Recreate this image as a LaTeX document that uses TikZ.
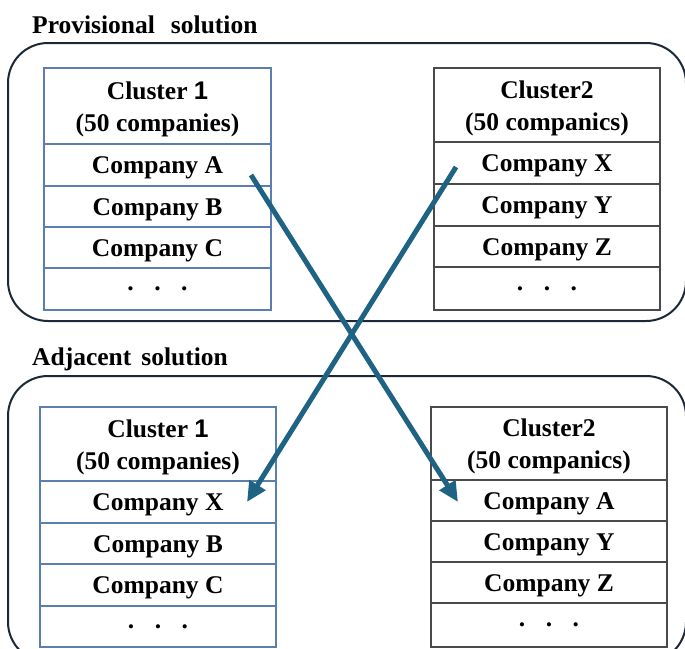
\documentclass[tikz,border=0pt]{standalone}
\usepackage{fontspec}
\setmainfont{Liberation Serif}
\newfontfamily\digitfont{Liberation Sans}
\usetikzlibrary{arrows.meta}
\definecolor{arrowc}{HTML}{1F6384}
\definecolor{bluec}{HTML}{5A7FAE}
\definecolor{grayc}{HTML}{4A4A4A}
\definecolor{framec}{HTML}{1C2836}
\begin{document}
\begin{tikzpicture}[x=1pt,y=-1pt,
  txt/.style={font=\fontsize{25.5}{32}\selectfont\bfseries, align=center, inner sep=0pt},
  row/.style={text height=17pt, text depth=0pt},
  dotrow/.style={text height=3pt, text depth=0pt},
  cellone/.style={txt, draw=bluec, line width=1.2pt, rectangle},
  celltwo/.style={txt, draw=grayc, line width=1.2pt, rectangle},
  headtxt/.style={txt, yshift=-3pt},
  frame/.style={draw=framec, line width=2pt, rounded corners=40pt},
  title/.style={font=\fontsize{25.5}{32}\selectfont\bfseries, inner sep=0pt, anchor=base west},
  swap/.style={draw=arrowc, line width=5pt, -{Triangle[length=20pt,width=18pt]}}]
\useasboundingbox (0,0) rectangle (685,648);
\clip (0,0) rectangle (685,648);
\fill[white] (0,0) rectangle (685,648);

% titles
\node[title] (ttop) at (32,33) {Provisional\hspace{16pt}solution};
\node[title] (tbot) at (32,365) {Adjacent\hspace{10pt}solution};

% frames
\draw[frame] (8,43) rectangle (686,321);
\draw[frame] (8,376) rectangle (686,662);

% top cluster 1
\node[cellone, minimum width=227pt, minimum height=76pt] (p1h) at (157.5,106) {};
\node[headtxt] (p1ht) at (p1h.center) {Cluster {\digitfont 1}\\(50 companies)};
\node[cellone, row, minimum width=227pt, minimum height=42pt] (p1a) at (157.5,165) {Company A};
\node[cellone, row, minimum width=227pt, minimum height=41pt] (p1b) at (157.5,206.5) {Company B};
\node[cellone, row, minimum width=227pt, minimum height=41pt] (p1c) at (157.5,247.5) {Company C};
\node[cellone, dotrow, minimum width=227pt, minimum height=42pt] (p1d) at (157.5,289) {.\hspace{20.5pt}.\hspace{20.5pt}.};

% top cluster 2
\node[celltwo, minimum width=226pt, minimum height=74pt] (p2h) at (547,105) {};
\node[headtxt] (p2ht) at (p2h.center) {Cluster2\\(50 companics)};
\node[celltwo, row, minimum width=226pt, minimum height=42pt] (p2x) at (547,163) {Company X};
\node[celltwo, row, minimum width=226pt, minimum height=42pt] (p2y) at (547,205) {Company Y};
\node[celltwo, row, minimum width=226pt, minimum height=41pt] (p2z) at (547,246.5) {Company Z};
\node[celltwo, dotrow, minimum width=226pt, minimum height=43pt] (p2d) at (547,288.5) {.\hspace{20.5pt}.\hspace{20.5pt}.};

% bottom cluster 1
\node[cellone, minimum width=236pt, minimum height=74pt] (a1h) at (158,444) {};
\node[headtxt] (a1ht) at (a1h.center) {Cluster {\digitfont 1}\\(50 companies)};
\node[cellone, row, minimum width=236pt, minimum height=42pt] (a1x) at (158,502) {Company X};
\node[cellone, row, minimum width=236pt, minimum height=41pt] (a1b) at (158,543.5) {Company B};
\node[cellone, row, minimum width=236pt, minimum height=42pt] (a1c) at (158,585) {Company C};
\node[cellone, dotrow, minimum width=236pt, minimum height=41pt] (a1d) at (158,626.5) {.\hspace{20.5pt}.\hspace{20.5pt}.};

% bottom cluster 2
\node[celltwo, minimum width=236pt, minimum height=73pt] (a2h) at (549,443.5) {};
\node[headtxt] (a2ht) at (a2h.center) {Cluster2\\(50 companics)};
\node[celltwo, row, minimum width=236pt, minimum height=41pt] (a2a) at (549,500.5) {Company A};
\node[celltwo, row, minimum width=236pt, minimum height=41pt] (a2y) at (549,541.5) {Company Y};
\node[celltwo, row, minimum width=236pt, minimum height=41pt] (a2z) at (549,582.5) {Company Z};
\node[celltwo, dotrow, minimum width=236pt, minimum height=44pt] (a2d) at (549,625) {.\hspace{20.5pt}.\hspace{20.5pt}.};

% arrows
\coordinate (fromA) at (251,175);
\coordinate (toA) at (458,502);
\coordinate (fromX) at (456,167);
\coordinate (toX) at (247,502);
\draw[swap] (fromA) -- (toA);
\draw[swap] (fromX) -- (toX);
\end{tikzpicture}
\end{document}
